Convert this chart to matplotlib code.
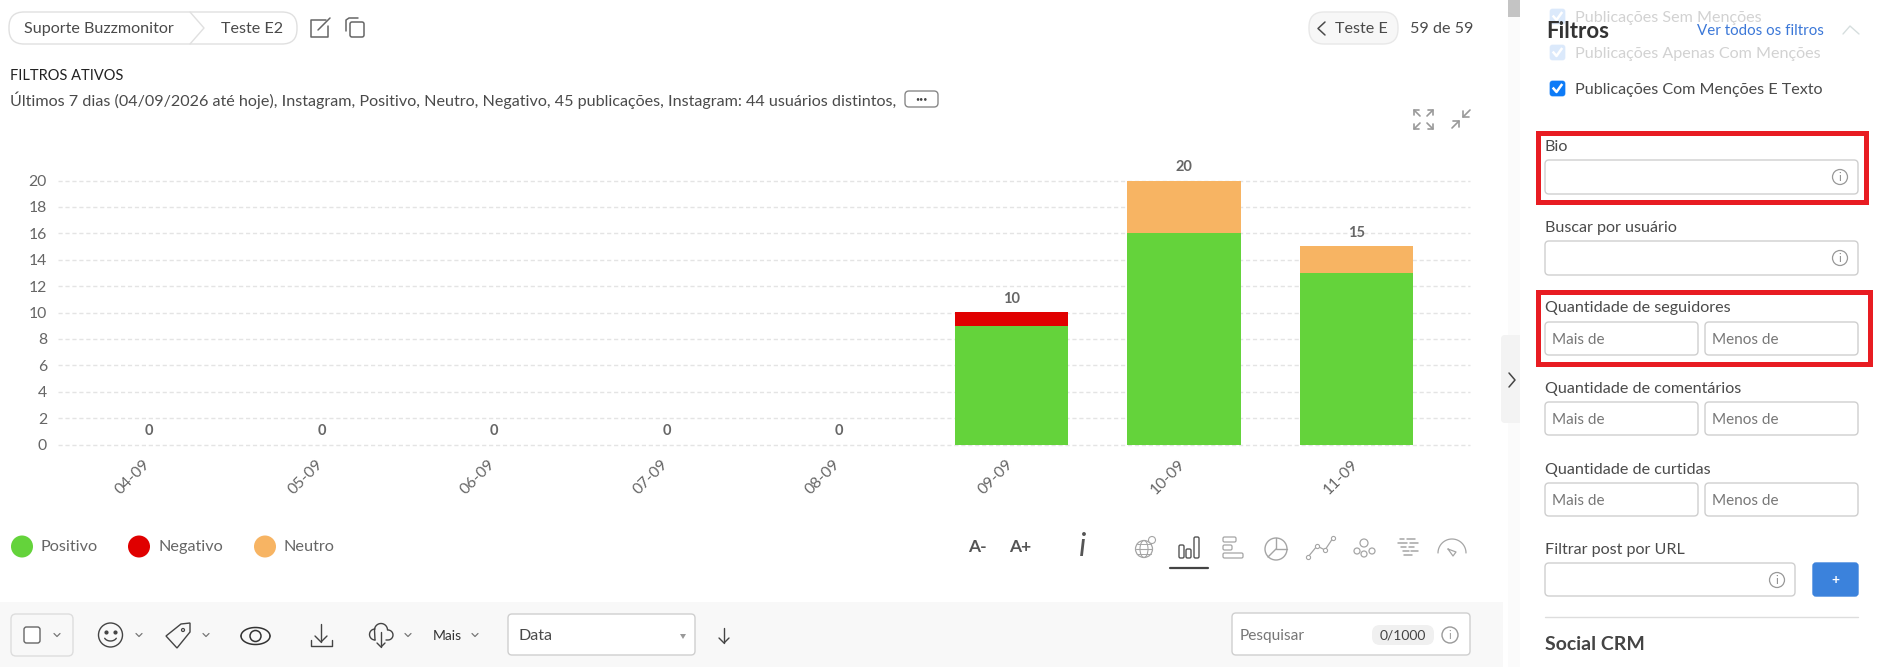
import matplotlib
matplotlib.use("Agg")
import matplotlib.pyplot as plt
from matplotlib.patches import FancyBboxPatch, Rectangle, Circle, Ellipse, Polygon
from matplotlib.transforms import ScaledTranslation
import numpy as np

plt.rcParams['font.family'] = ['Lato', 'Open Sans', 'DejaVu Sans']

# ---- data ----
categories = ['04-09', '05-09', '06-09', '07-09', '08-09', '09-09', '10-09', '11-09']
positivo = [0, 0, 0, 0, 0, 9, 16, 13]
negativo = [0, 0, 0, 0, 0, 1, 0, 0]
neutro = [0, 0, 0, 0, 0, 0, 4, 2]
y_ticks = [0, 2, 4, 6, 8, 10, 12, 14, 16, 18, 20]
series_names = ['Positivo', 'Negativo', 'Neutro']
series_colors = ['#64d33b', '#e00000', '#f7b463']
filter_line = ('Últimos 7 dias (04/09/2026 até hoje), Instagram, Positivo, Neutro, Negativo, '
               '45 publicações, Instagram: 44 usuários distintos,')

W, H = 1877, 667
fig = plt.figure(figsize=(W / 100, H / 100), dpi=100, facecolor='white')

# ---- page chrome drawn in pixel coordinates ----
ui = fig.add_axes([0, 0, 1, 1], zorder=1)
ui.set_xlim(0, W)
ui.set_ylim(H, 0)
ui.axis('off')

TXT = '#4a4a4a'
ICON = '#666666'
BORDER = '#cfcfcf'
BODY = 11.6


def rr(x0, y0, x1, y1, r=4, fc='white', ec=BORDER, lw=1, z=2, alpha=None):
    ui.add_patch(FancyBboxPatch((x0 + r, y0 + r), x1 - x0 - 2 * r, y1 - y0 - 2 * r,
                                boxstyle=f'round,pad={r},rounding_size={r}',
                                fc=fc, ec=ec, lw=lw, zorder=z, alpha=alpha))


def t(x, y, s, size=BODY, color=TXT, ha='left', va='center', weight='normal', z=5, style='normal'):
    ui.text(x, y + 0.8, s, fontsize=size, color=color, ha=ha, va=va, fontweight=weight,
            zorder=z, fontstyle=style)


def pl(xs, ys, color=ICON, lw=1.1, z=5):
    ui.plot(xs, ys, color=color, lw=lw, zorder=z, solid_capstyle='round', solid_joinstyle='round')


def ring(cx, cy, r, color=ICON, lw=1.0, fc='none', z=5):
    ui.add_patch(Circle((cx, cy), r, fc=fc, ec=color, lw=lw, zorder=z))


def chevron_down(x, y, s=3, color='#777777', lw=0.9):
    pl([x - s, x, x + s], [y - s / 2, y + s / 2, y - s / 2], color, lw)


def check(x0, y0, size, fc='#0d7bf7', tick='white'):
    rr(x0, y0, x0 + size, y0 + size, r=2.5, fc=fc, ec=fc, lw=0.5, z=3)
    ui.plot([x0 + 3.5, x0 + 6.5, x0 + size - 3.5], [y0 + size / 2, y0 + size - 4, y0 + 4],
            color=tick, lw=1.8, zorder=4)


# breadcrumb
rr(9, 12, 297, 44, r=15, fc='white', ec='#e0e0e0')
pl([190, 204, 190], [12, 28, 44], '#e0e0e0', 1)
t(24, 28, 'Suporte Buzzmonitor')
t(221, 28, 'Teste E2')
# edit icon
pl([326, 311, 311, 328, 328], [20, 20, 37, 37, 26], ICON, 1.1)
pl([318, 330], [30, 18], ICON, 1.1)
# copy icon
rr(350, 22, 364, 37, r=2, fc='white', ec=ICON, lw=1.1, z=5)
pl([346, 346, 349, 358], [31, 20, 18, 18], ICON, 1.1)

# back pill
rr(1309, 12, 1398, 44, r=15, fc='#f7f7f7', ec='#e8e8e8')
pl([1325, 1318, 1325], [22, 28.5, 35], TXT, 1.1)
t(1335, 28.5, 'Teste E')
t(1410, 28, '59 de 59')

# active filters
t(10, 75, 'FILTROS ATIVOS', 10.5, '#222222')
t(10, 99, filter_line)
rr(905, 91, 938, 107, r=4, fc='white', ec='#888888')
t(921.5, 97.5, '•••', 5, '#444444', ha='center')

# expand / compress icons
for sx, sy in [(1, 1), (-1, 1), (1, -1), (-1, -1)]:
    cx, cy = 1423.5, 119.5
    ax_, ay_ = cx + sx * 9.5, cy + sy * 9.5
    bx_, by_ = cx + sx * 3.5, cy + sy * 3.5
    pl([ax_, bx_], [ay_, by_], '#999999', 1.2)
    pl([ax_ - sx * 5, ax_, ax_], [ay_, ay_, ay_ - sy * 5], '#999999', 1.2)
pl([1452, 1459], [128, 121], '#999999', 1.2)
pl([1453, 1459, 1459], [121, 121, 127], '#999999', 1.2)
pl([1470, 1463], [110, 117], '#999999', 1.2)
pl([1463, 1463, 1469], [111, 117, 117], '#999999', 1.2)

# legend
for cx, name, col, tx in zip([22, 139, 265], series_names, series_colors, [41, 159, 284]):
    ui.add_patch(Circle((cx, 546.5), 11, fc=col, ec='none', zorder=3))
    t(tx, 546.5, name, 11.7, '#666666')

# font-size and chart-type controls
t(977, 546, 'A-', 12.5, '#555555', ha='center', weight='bold')
t(1020, 546, 'A+', 12.5, '#555555', ha='center', weight='bold')
t(1083, 546, 'i', 23, '#555555', ha='center', style='italic')
G = '#a5a5a5'
# globe
ring(1144, 549, 8.5, G, 0.9)
ui.add_patch(Ellipse((1144, 549), 8, 17, fc='none', ec=G, lw=0.8, zorder=5))
pl([1136, 1152], [549, 549], G, 0.8)
pl([1137, 1151], [544, 544], G, 0.7)
pl([1137, 1151], [554, 554], G, 0.7)
ring(1152, 540, 3.5, G, 0.8, fc='white', z=6)
# bars (selected)
for x0, top in [(1179, 545), (1186, 549), (1194, 537)]:
    rr(x0, top, x0 + 5, 558, r=1.5, fc='white', ec='#555555', lw=1.0, z=5)
pl([1170, 1208], [568, 568], '#444444', 1.6)
# horizontal bars
for y0, right in [(537, 1236), (545, 1232), (553, 1243)]:
    rr(1223, y0, right, y0 + 5, r=1.5, fc='white', ec=G, lw=0.9, z=5)
# pie
ring(1276, 549, 11, G, 1)
pl([1276, 1276, 1287], [538, 549, 549], G, 1)
pl([1276, 1268], [549, 557], G, 1)
# line
lx, ly = [1308, 1317, 1325, 1333], [557, 546, 550, 538]
pl(lx, ly, G, 0.9)
ui.scatter(lx, ly, s=9, fc='white', ec=G, lw=0.8, zorder=6)
# network
for cx, cy, r in [(1364, 543, 4), (1357, 551, 3), (1372, 551, 3), (1364, 554, 3)]:
    ring(cx, cy, r, G, 0.9, fc='white', z=6)
# word cloud
for y0, segs in [(539, [(1400, 1404), (1407, 1415)]), (543, [(1398, 1407), (1410, 1418)]),
                 (547, [(1401, 1406), (1409, 1414)]), (551, [(1403, 1409), (1411, 1418)]),
                 (555, [(1404, 1412)])]:
    for x0, x1 in segs:
        pl([x0, x1], [y0, y0], G, 1.1)
# gauge
th = np.linspace(np.pi * 1.0, 0, 40)
pl(1452 + 14 * np.cos(th), 553 - 14 * np.sin(th), G, 0.9)
pl([1448, 1453, 1456, 1448], [549, 556, 552, 549], G, 0.9)

# right-hand scroll track and side tab
ui.add_patch(Rectangle((1508, 0), 12, 667, fc='#fbfbfb', ec='none', zorder=1))
ui.add_patch(Rectangle((1508, 0), 12, 17, fc='#c4c4c4', ec='none', zorder=2))
rr(1501, 335, 1524, 423, r=4, fc='#f3f3f3', ec='none', z=2)
ui.add_patch(Rectangle((1520, 330), 6, 100, fc='white', ec='none', zorder=3))
pl([1509, 1515, 1509], [373, 380, 387], '#444444', 1.1)

# bottom toolbar
D = '#444444'
ui.add_patch(Rectangle((0, 602), 1503, 65, fc='#f8f8f8', ec='none', zorder=1))
rr(11, 614, 73, 656, r=5, fc='#f8f8f8', ec='#dddddd')
rr(24, 627, 40, 643, r=2.5, fc='white', ec='#666666', lw=1.0, z=5)
chevron_down(57, 635)
# smile
ring(110.5, 635, 12, D, 1.0)
ui.scatter([106, 115], [632, 632], s=4, c=D, zorder=5)
sm = np.linspace(0.15, 0.85, 20) * np.pi
pl(110.5 + 6.5 * np.cos(sm), 636 + 5 * np.sin(sm), D, 1.0)
chevron_down(139, 635)
# tag
ui.add_patch(Polygon([[166, 636], [181, 624], [190, 623], [190, 632], [177, 648]], closed=True,
                     fc='none', ec=D, lw=1.0, zorder=5))
ring(183, 630, 1.5, D, 0.9)
chevron_down(206, 635)
# eye
ee = np.linspace(0, np.pi, 30)
pl(255.5 + 14.5 * np.cos(ee), 636 - 8.5 * np.sin(ee), '#333333', 1.1)
pl(255.5 + 14.5 * np.cos(ee), 636 + 8.5 * np.sin(ee), '#333333', 1.1)
ring(255.5, 636, 5.5, '#333333', 1.1)
# download
pl([321, 321], [624, 642], D, 1.0)
pl([315, 321, 327], [636, 642, 636], D, 1.0)
pl([311, 311, 332, 332], [640, 646, 646, 640], D, 1.0)
# cloud
ca = np.linspace(-0.6, 3.75, 40)
cloud_x = np.r_[375 + 0, 381 + 6.5 * np.cos(np.linspace(np.pi, 0, 25)), 388 + 5 * np.sin(np.linspace(0, np.pi, 15)), 386]
cloud_y = np.r_[640, 630 + 6.5 * np.sin(-np.linspace(np.pi, 0, 25)), 635 + 5 * -np.cos(np.linspace(0, np.pi, 15)), 640]
pl(cloud_x, cloud_y, D, 1.0)
ce = np.linspace(np.pi * 0.5, np.pi * 1.5, 15)
pl(375 - 5.5 * np.abs(np.cos(ce)), 634.5 + 5.5 * np.sin(ce), D, 1.0)
pl([381, 381], [632, 647], D, 1.0)
pl([377, 381, 385], [643, 647, 643], D, 1.0)
chevron_down(408, 635)
t(433, 635, 'Mais', 10, '#333333')
chevron_down(475, 635)
rr(508, 614, 695, 655, r=4)
t(519, 635, 'Data')
ui.add_patch(Polygon([[680, 634], [686, 634], [683, 639]], closed=True, fc='#999999', ec='none', zorder=5))
pl([724, 724], [628, 643], D, 1.0)
pl([719, 724, 729], [638, 643, 638], D, 1.0)
rr(1232, 613, 1470, 655, r=4)
t(1240, 635.5, 'Pesquisar', 11.2, '#777777')
rr(1372, 625, 1434, 645, r=8, fc='#f0f0f0', ec='none', z=3)
t(1403, 634.5, '0/1000', 10, D, ha='center')
ring(1450, 635, 8, '#999999', 1)
t(1450, 634.5, 'i', 8, '#999999', ha='center')

# sidebar
FADE = '#d2d2d2'
t(1575, 17, 'Publicações Sem Menções', BODY, FADE)
check(1550, 9, 15, '#dbe9fb', 'white')
t(1575, 53, 'Publicações Apenas Com Menções', BODY, FADE)
check(1550, 45, 15, '#dbe9fb', 'white')
t(1546, 31, 'Filtros', 16, '#333333', weight='bold')
t(1697, 30, 'Ver todos os filtros', 10.9, '#3c78d8')
pl([1843, 1850, 1859], [34, 26, 34], '#d6dede', 1.0)
check(1550, 81, 15)
t(1575, 89.5, 'Publicações Com Menções E Texto')


def info(x, y):
    ring(x, y, 7.5, '#999999', 0.9)
    t(x, y - 0.5, 'i', 8, '#888888', ha='center')


def pair(y0):
    rr(1545, y0, 1698, y0 + 33, r=4)
    rr(1705, y0, 1858, y0 + 33, r=4)
    t(1552, y0 + 17, 'Mais de', 11, '#777777')
    t(1712, y0 + 17, 'Menos de', 11, '#777777')


t(1545, 146, 'Bio')
rr(1545, 160, 1858, 194, r=4)
info(1840, 177)
t(1545, 227, 'Buscar por usuário')
rr(1545, 241, 1858, 275, r=4)
info(1840, 258)
t(1545, 307, 'Quantidade de seguidores')
pair(322)
t(1545, 388, 'Quantidade de comentários')
pair(402)
t(1545, 469, 'Quantidade de curtidas')
pair(483)
t(1545, 549, 'Filtrar post por URL')
rr(1545, 563, 1795, 596, r=4)
info(1777, 580)
rr(1813, 563, 1858, 596, r=3, fc='#3b82dc', ec='#3b82dc')
t(1835.5, 579, '+', 10, 'white', ha='center', weight='bold')
pl([1545, 1858], [617, 617], '#dddddd', 1)
t(1545, 644, 'Social CRM', 14, '#444444', weight='bold')
# red highlight boxes
for x0, y0, x1, y1 in [(1538, 133, 1866, 202), (1538, 292, 1870, 364)]:
    ui.add_patch(Rectangle((x0, y0), x1 - x0, y1 - y0, fc='none', ec='#e81c22', lw=3.6, zorder=7))

# ---- chart ----
top_px, bottom_px = 180.5, 444.5
left_px, right_px = 58.0, 1470.0
ax = fig.add_axes([left_px / W, 1 - bottom_px / H, (right_px - left_px) / W, (bottom_px - top_px) / H], zorder=3)
ax.patch.set_alpha(0)
xpos = np.arange(len(categories))
pos, neg, neu = map(np.array, (positivo, negativo, neutro))
bw = 113.5 / 172.5
ax.bar(xpos, pos, bw, color=series_colors[0], zorder=3)
ax.bar(xpos, neg, bw, bottom=pos, color=series_colors[1], zorder=3)
ax.bar(xpos, neu, bw, bottom=pos + neg, color=series_colors[2], zorder=3)
totals = pos + neg + neu
for x, v in zip(xpos, totals):
    ax.annotate(str(v), (x, v), xytext=(0, 10), textcoords='offset points', ha='center', va='center',
                fontsize=10.5, fontweight='bold', color='#666666', zorder=4)
ax.set_xlim((left_px - 149) / 172.5, (right_px - 149) / 172.5)
ax.set_ylim(0, 20)
ax.set_yticks(y_ticks)
ax.set_xticks(xpos)
ax.set_xticklabels(categories, rotation=45, ha='right', rotation_mode='anchor')
ax.tick_params(axis='both', length=0, labelsize=11.3, labelcolor='#666666')
ax.tick_params(axis='x', pad=9)
ax.tick_params(axis='y', pad=8)
shift = ScaledTranslation(-6 / 100, 0, fig.dpi_scale_trans)
for lab in ax.get_xticklabels():
    lab.set_transform(lab.get_transform() + shift)
ax.grid(axis='y', color='#e4e4e4', lw=1, ls=(0, (3, 2)), zorder=0)
ax.set_axisbelow(True)
for s in ax.spines.values():
    s.set_visible(False)
for gl in ax.get_ygridlines():
    gl.set_clip_on(False)

fig.savefig('out.png', dpi=100, facecolor='white')
